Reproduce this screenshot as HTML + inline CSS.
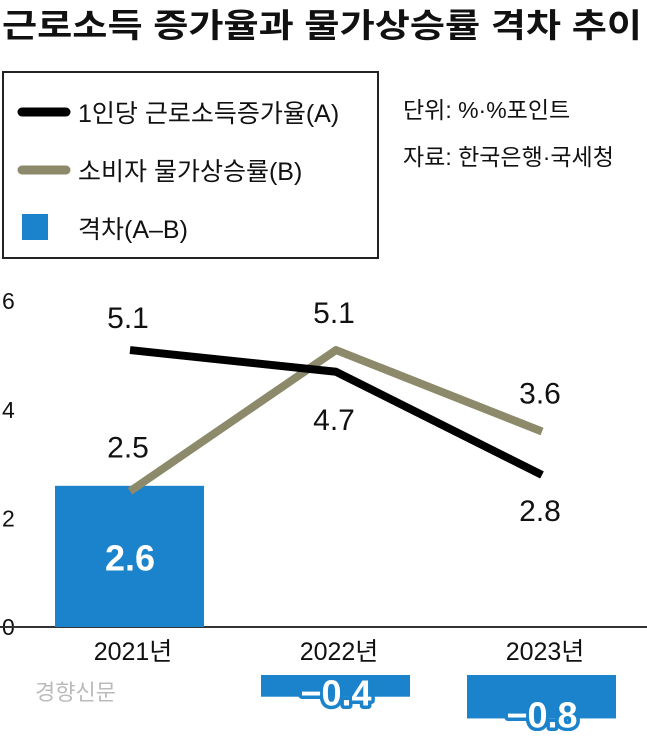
<!DOCTYPE html>
<html><head><meta charset="utf-8"><style>
body{margin:0;background:#fff;width:647px;height:731px;overflow:hidden;font-family:"Liberation Sans","Noto Sans CJK KR",sans-serif;}
</style></head><body>
<svg width="647" height="731" viewBox="0 0 647 731" xmlns="http://www.w3.org/2000/svg" font-family="Liberation Sans, Noto Sans CJK KR, sans-serif">
<text x="2" y="37" font-size="33" font-weight="bold" fill="#111" textLength="640" lengthAdjust="spacingAndGlyphs">근로소득 증가율과 물가상승률 격차 추이</text>
<rect x="3" y="72" width="375" height="186" fill="none" stroke="#222" stroke-width="2"/>
<g><line x1="22" y1="112" x2="66" y2="112" stroke="#000" stroke-width="9" stroke-linecap="round"/><text x="78" y="122" font-size="25" fill="#111">1인당 근로소득증가율(A)</text></g>
<g><line x1="22" y1="170" x2="66" y2="170" stroke="#8c8a6a" stroke-width="9" stroke-linecap="round"/><text x="78" y="180" font-size="25" fill="#111">소비자 물가상승률(B)</text></g>
<g><rect x="22" y="214" width="26" height="26" fill="#1a83cc"/><text x="78" y="238" font-size="25" fill="#111">격차(A–B)</text></g>
<text x="403" y="118" font-size="23" fill="#111">단위: %·%포인트</text>
<text x="403" y="165" font-size="23" fill="#111">자료: 한국은행·국세청</text>
<g id="yaxis"></g>
<line x1="0" y1="627" x2="647" y2="627" stroke="#333" stroke-width="2"/>
<g id="bars"></g><g id="lines"></g><g id="labels"></g>
<text x="35" y="700" font-size="22" fill="#bbb">경향신문</text>
</svg>
<script>
const categories=["2021년","2022년","2023년"];
const seriesA=[5.1,4.7,2.8];
const seriesB=[2.5,5.1,3.6];
const gap=[2.6,-0.4,-0.8];
const yTicks=[0,2,4,6];
const NS="http://www.w3.org/2000/svg";
const xc=i=>130+i*206;
const y=v=>627-v*54.3;
function mk(tag,attrs,parent,txt){const e=document.createElementNS(NS,tag);for(const k in attrs)e.setAttribute(k,attrs[k]);if(txt!==undefined)e.textContent=txt;parent.appendChild(e);return e;}
const ya=document.getElementById('yaxis');
yTicks.forEach(t=>{const e=mk('text',{x:2,y:y(t)+8,'font-size':23,fill:'#111'},ya,String(t));

});
const bars=document.getElementById('bars'),labels=document.getElementById('labels'),lines=document.getElementById('lines');
categories.forEach((c,i)=>{
 const v=gap[i];let top,h;
 if(v>=0){top=y(v);h=627-top;}else{top=675;h=-v*54.3;}
 const r=mk('rect',{x:xc(i)-75,y:top,width:149,height:h,fill:'#1a83cc'},bars);
 
 
 const ty=v>=0?top+h/2+14:top+h+9;
 const t=mk('text',{x:xc(i),y:ty,'font-size':36,'font-weight':'bold',fill:'#fff',stroke:'#1a83cc','stroke-width':v<0?7:0,'stroke-linejoin':'round','paint-order':'stroke','text-anchor':'middle'},labels,(v<0?'−':'')+Math.abs(v).toFixed(1));
 
 
 const xl=mk('text',{x:xc(i)+3,y:660,'font-size':25,fill:'#111','text-anchor':'middle'},labels,c);
 
 
});
function line(arr,color,name){const p=mk('polyline',{points:arr.map((v,i)=>xc(i)+','+y(v)).join(' '),fill:'none',stroke:color,'stroke-width':8,'stroke-linejoin':'round'},lines);

}
line(seriesB,'#8c8a6a','line-cpi');
line(seriesA,'#000','line-wage');
const offA=[-22,58,46],offB=[-34,-27,-28];
categories.forEach((c,i)=>{
 const a=mk('text',{x:xc(i)-2,y:y(seriesA[i])+offA[i],'font-size':30,fill:'#111','text-anchor':'middle'},labels,seriesA[i].toFixed(1));
 
 
 const b=mk('text',{x:xc(i)-2,y:y(seriesB[i])+offB[i],'font-size':30,fill:'#111','text-anchor':'middle'},labels,seriesB[i].toFixed(1));
 
 
});
</script>
</body></html>
